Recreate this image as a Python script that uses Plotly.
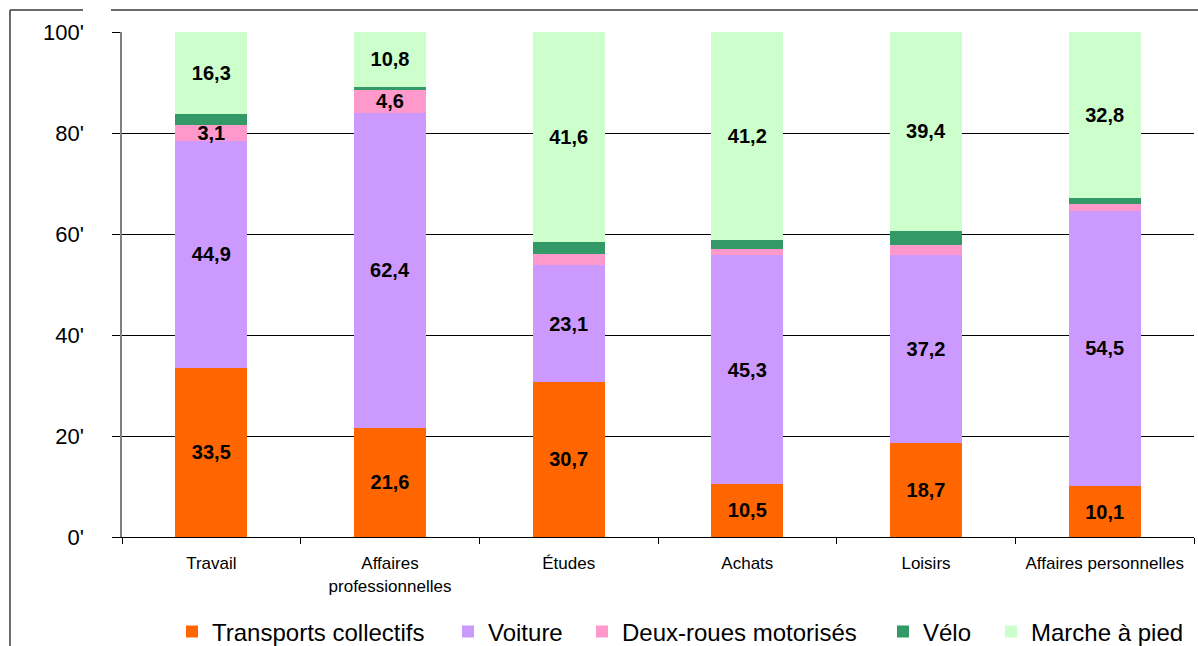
import plotly.graph_objects as go

# Répartition des déplacements par motif et par mode (%)
categories = ["Travail", "Affaires<br>professionnelles", "Études", "Achats", "Loisirs", "Affaires personnelles"]

transports_collectifs = [33.5, 21.6, 30.7, 10.5, 18.7, 10.1]
voiture = [44.9, 62.4, 23.1, 45.3, 37.2, 54.5]
deux_roues = [3.1, 4.6, 2.2, 1.3, 2.0, 1.4]
velo = [2.2, 0.6, 2.4, 1.7, 2.7, 1.2]
marche = [16.3, 10.8, 41.6, 41.2, 39.4, 32.8]

y_ticks = [0, 20, 40, 60, 80, 100]
y_ticktext = ["0'", "20'", "40'", "60'", "80'", "100'"]

# which segments carry a printed value
show_deux_roues = [True, True, False, False, False, False]

FONT = "Liberation Sans, Arial, sans-serif"


def fr(v):
    return f"{v:.1f}".replace(".", ",")


# name, values, colour, labelled segments, left edge of the legend entry (px)
series = [
    ("Transports collectifs", transports_collectifs, "#FF6600", [True] * 6, 186),
    ("Voiture", voiture, "#CC99FF", [True] * 6, 462),
    ("Deux-roues motorisés", deux_roues, "#FF99CC", show_deux_roues, 596),
    ("Vélo", velo, "#339966", [False] * 6, 897),
    ("Marche à pied", marche, "#CCFFCC", [True] * 6, 1005),
]

W, H = 1198, 646
ML, MR, MT, MB = 122, 4, 32, 109
PW, PH = W - ML - MR, H - MT - MB

fig = go.Figure()
legends = {}
for i, (name, vals, color, shown, lx) in enumerate(series):
    key = "legend" if i == 0 else f"legend{i + 1}"
    fig.add_trace(go.Bar(
        name=name,
        x=categories,
        y=vals,
        marker=dict(color=color, line=dict(width=0)),
        text=[fr(v) if s else "" for v, s in zip(vals, shown)],
        textposition="inside",
        insidetextanchor="middle",
        textangle=0,
        textfont=dict(family=FONT, size=20, color="black", weight="bold"),
        hoverinfo="skip",
        legend=key,
    ))
    legends[key] = dict(
        xref="container", yref="container",
        x=(lx - 14) / W, xanchor="left",
        y=(H - 632) / H, yanchor="middle",
        orientation="h",
        font=dict(family=FONT, size=24, color="black"),
        bgcolor="rgba(0,0,0,0)",
        borderwidth=0,
    )


def px_x(p):
    return (p - ML) / PW


def px_y(p):
    return (H - MB - p) / PH


# outer frame of the chart (left and top edges)
frame = dict(type="line", xref="paper", yref="paper", line=dict(color="#3a3a3a", width=1.5))
shapes = [
    dict(frame, x0=px_x(10), x1=px_x(10), y0=px_y(10), y1=px_y(H + 5)),
    dict(frame, x0=px_x(10), x1=px_x(83), y0=px_y(10), y1=px_y(10)),
    dict(frame, x0=px_x(111), x1=px_x(W + 5), y0=px_y(10), y1=px_y(10)),
]

fig.update_layout(
    width=W, height=H,
    margin=dict(l=ML, r=MR, t=MT, b=MB, autoexpand=False),
    barmode="stack",
    bargap=0.597,
    plot_bgcolor="white",
    paper_bgcolor="white",
    font=dict(family=FONT, color="black"),
    uniformtext=dict(mode="show", minsize=20),
    shapes=shapes,
    showlegend=True,
    xaxis=dict(
        type="category",
        showline=True, linecolor="black", linewidth=1,
        ticks="outside", tickson="boundaries", ticklen=6, tickcolor="black",
        ticklabelstandoff=11,
        tickfont=dict(family=FONT, size=17, color="black"),
        showgrid=False,
        fixedrange=True,
    ),
    yaxis=dict(
        range=[0, 100],
        tickvals=y_ticks,
        ticktext=y_ticktext,
        showgrid=True, gridcolor="black", gridwidth=1,
        zeroline=False,
        showline=True, linecolor="#808080", linewidth=1.5,
        ticks="outside", ticklen=8, tickcolor="black",
        ticklabelstandoff=24,
        tickfont=dict(family=FONT, size=22, color="black"),
        fixedrange=True,
    ),
    **legends,
)

fig.write_html("out.html")
